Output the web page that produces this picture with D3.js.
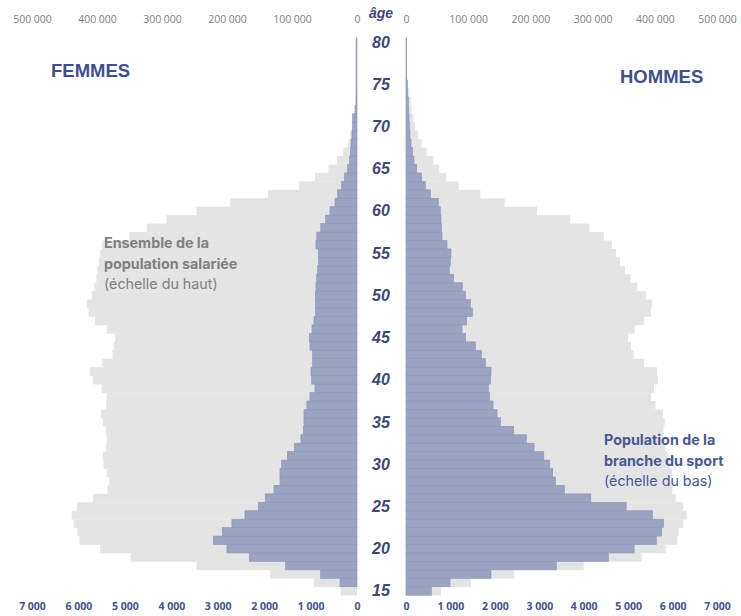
<!DOCTYPE html>
<html>
<head>
<meta charset="utf-8">
<script src="https://cdn.jsdelivr.net/npm/d3@7"></script>
<style>
  html, body { margin: 0; padding: 0; background: #fff; }
  svg { display: block; }
</style>
</head>
<body>
<svg id="chart" width="741" height="616"></svg>
<script>
// pyramide des âges : ensemble des salariés (échelle du haut) vs branche du sport (échelle du bas)
const ages = d3.range(15, 81);

// femmes — ensemble de la population salariée (âges 15 → 80)
const femmesTotal = [
  25000, 66000, 134000, 247000, 348000, 395000, 427000, 430000, 436000, 439000,
  431000, 406000, 384000, 381000, 385000, 390000, 391000, 386000, 385000, 386000,
  391000, 394000, 386000, 385000, 393000, 406000, 411000, 392000, 376000, 374000,
  372000, 385000, 403000, 413000, 416000, 408000, 404000, 401000, 399000, 397000,
  395000, 392000, 350000, 323000, 293000, 247000, 195000, 137000, 89000, 64600,
  44000, 31000, 21000, 13400, 10800, 8200, 6600, 4600, 3000, 2000,
  1500, 1000, 800, 600, 500, 400
];
// femmes — branche du sport
const femmesSport = [
  0, 366, 783, 1537, 2320, 2802, 3096, 2902, 2694, 2414,
  2126, 1976, 1789, 1659, 1659, 1624, 1501, 1351, 1207, 1157,
  1142, 1142, 1080, 1013, 905, 977, 991, 955, 955, 1013,
  1027, 970, 927, 898, 898, 898, 884, 869, 847, 825,
  834, 884, 866, 780, 680, 582, 474, 416, 335, 270,
  201, 165, 144, 129, 108, 93, 93, 40, 20, 20,
  20, 20, 20, 20, 20, 20
];
// hommes — ensemble de la population salariée
const hommesTotal = [
  56000, 104500, 174000, 285600, 379000, 417500, 436000, 438000, 446000, 451000,
  446000, 433500, 428000, 428000, 427600, 424000, 421000, 417000, 414000, 414000,
  416000, 413000, 401000, 394000, 398700, 405000, 403500, 383000, 366000, 361700,
  357000, 367600, 383000, 394000, 395500, 386000, 372000, 361000, 352000, 344000,
  337600, 331000, 318000, 295000, 264000, 210600, 158600, 119500, 84700, 64300,
  53600, 44000, 33000, 25000, 19800, 14500, 11800, 9000, 7500, 5400,
  3200, 2000, 1500, 1000, 800, 600
];
// hommes — branche du sport
const hommesSport = [
  571, 991, 1914, 3386, 4557, 5135, 5638, 5751, 5796, 5548,
  4955, 4159, 3566, 3363, 3303, 3236, 3101, 2883, 2710, 2425,
  2132, 2050, 1959, 1877, 1854, 1899, 1914, 1787, 1697, 1562,
  1344, 1261, 1366, 1494, 1449, 1336, 1268, 1073, 976, 998,
  1013, 923, 811, 796, 788, 773, 728, 548, 435, 353,
  240, 180, 150, 113, 90, 75, 68, 60, 53, 38,
  30, 15, 15, 15, 15, 15
];

const topTicks = [0, 100000, 200000, 300000, 400000, 500000];
const bottomTicks = [0, 1000, 2000, 3000, 4000, 5000, 6000, 7000];
const ageTicks = [15, 20, 25, 30, 35, 40, 45, 50, 55, 60, 65, 70, 75, 80];

const GREY = '#e4e4e4';
const BLUE = '#9ca3bf';
const BLUE_LINE = '#8a94c3';
const NAVY = '#3d4878';
const TITLE_BLUE = '#3f4f8f';

const fr = d3.formatLocale({ decimal: ',', thousands: ' ', grouping: [3], currency: ['', ' €'] });
const fmt = fr.format(',d');

const svg = d3.select('#chart');

const y = d3.scaleBand().domain(ages.slice().reverse()).range([37.8, 595.2]).padding(0);

const xLTop = d3.scaleLinear().domain([0, 500000]).range([357, 32]);
const xLBot = d3.scaleLinear().domain([0, 7000]).range([357, 32]);
const xRTop = d3.scaleLinear().domain([0, 500000]).range([406, 717]);
const xRBot = d3.scaleLinear().domain([0, 7000]).range([406, 717]);

const rows = ages.map((a, i) => ({
  age: a, fT: femmesTotal[i], fS: femmesSport[i], hT: hommesTotal[i], hS: hommesSport[i]
}));

// gris : ensemble
svg.append('g').selectAll('rect').data(rows).enter().append('rect')
  .attr('x', d => xLTop(d.fT)).attr('y', d => y(d.age))
  .attr('width', d => xLTop(0) - xLTop(d.fT)).attr('height', y.bandwidth() + 0.3)
  .attr('fill', GREY);
svg.append('g').selectAll('rect').data(rows).enter().append('rect')
  .attr('x', xRTop(0)).attr('y', d => y(d.age))
  .attr('width', d => xRTop(d.hT) - xRTop(0)).attr('height', y.bandwidth() + 0.3)
  .attr('fill', GREY);

// bleu : branche du sport
svg.append('g').selectAll('rect').data(rows.filter(d => d.fS > 0)).enter().append('rect')
  .attr('x', d => xLBot(d.fS)).attr('y', d => y(d.age))
  .attr('width', d => xLBot(0) - xLBot(d.fS)).attr('height', y.bandwidth())
  .attr('fill', BLUE).attr('stroke', BLUE_LINE).attr('stroke-width', 0.6);
svg.append('g').selectAll('rect').data(rows.filter(d => d.hS > 0)).enter().append('rect')
  .attr('x', xRBot(0)).attr('y', d => y(d.age))
  .attr('width', d => xRBot(d.hS) - xRBot(0)).attr('height', y.bandwidth())
  .attr('fill', BLUE).attr('stroke', BLUE_LINE).attr('stroke-width', 0.6);

// axes
function styleAxis(g, color, weight) {
  g.select('.domain').remove();
  g.selectAll('line').remove();
  g.selectAll('text')
    .attr('fill', color)
    .style('font-family', '"Open Sans", "Noto Sans", sans-serif')
    .style('font-size', '10.5px')
    .style('font-weight', weight);
}
svg.append('g').attr('transform', 'translate(0,23)')
  .call(d3.axisTop(xLTop).tickValues(topTicks).tickFormat(fmt).tickSize(0).tickPadding(0))
  .call(g => styleAxis(g, '#7f7f7f', 400));
svg.append('g').attr('transform', 'translate(0,23)')
  .call(d3.axisTop(xRTop).tickValues(topTicks).tickFormat(fmt).tickSize(0).tickPadding(0))
  .call(g => styleAxis(g, '#7f7f7f', 400));

svg.append('g').attr('transform', 'translate(0,603)')
  .call(d3.axisBottom(xLBot).tickValues(bottomTicks).tickFormat(fmt).tickSize(0).tickPadding(0))
  .call(g => styleAxis(g, '#44538f', 700));
svg.append('g').attr('transform', 'translate(0,603)')
  .call(d3.axisBottom(xRBot).tickValues(bottomTicks).tickFormat(fmt).tickSize(0).tickPadding(0))
  .call(g => styleAxis(g, '#44538f', 700));

// âges
svg.append('g').selectAll('text').data(ageTicks).enter().append('text')
  .attr('x', 381).attr('y', d => y(d) + y.bandwidth() / 2)
  .attr('text-anchor', 'middle').attr('dominant-baseline', 'central')
  .attr('fill', NAVY)
  .style('font-family', '"Liberation Sans", Arial, sans-serif')
  .style('font-size', '16px').style('font-weight', 700).style('font-style', 'italic')
  .text(d => d);

svg.append('text').attr('x', 381).attr('y', 13)
  .attr('text-anchor', 'middle').attr('dominant-baseline', 'central')
  .attr('fill', NAVY)
  .style('font-family', '"Liberation Sans", Arial, sans-serif')
  .style('font-size', '14px').style('font-weight', 700).style('font-style', 'italic')
  .text('âge');

// titres
svg.append('text').attr('x', 51).attr('y', 77)
  .attr('fill', TITLE_BLUE)
  .style('font-family', '"Liberation Sans", Arial, sans-serif')
  .style('font-size', '18.5px').style('font-weight', 700)
  .text('FEMMES');
svg.append('text').attr('x', 620).attr('y', 83)
  .attr('fill', TITLE_BLUE)
  .style('font-family', '"Liberation Sans", Arial, sans-serif')
  .style('font-size', '18.5px').style('font-weight', 700)
  .text('HOMMES');

// annotations
function note(x, y0, lines, color) {
  const t = svg.append('text').attr('x', x).attr('y', y0)
    .attr('fill', color)
    .style('font-family', 'Inter, "Open Sans", sans-serif')
    .style('font-size', '14.3px');
  lines.forEach((l, i) => {
    t.append('tspan').attr('x', x).attr('dy', i === 0 ? 0 : 20.5)
      .style('font-weight', l.bold ? 700 : 400).text(l.text);
  });
}
note(104, 248, [
  { text: 'Ensemble de la', bold: true },
  { text: 'population salariée', bold: true },
  { text: '(échelle du haut)', bold: false }
], '#808080');
note(604, 445, [
  { text: 'Population de la', bold: true },
  { text: 'branche du sport', bold: true },
  { text: '(échelle du bas)', bold: false }
], '#4a5894');
</script>
</body>
</html>
